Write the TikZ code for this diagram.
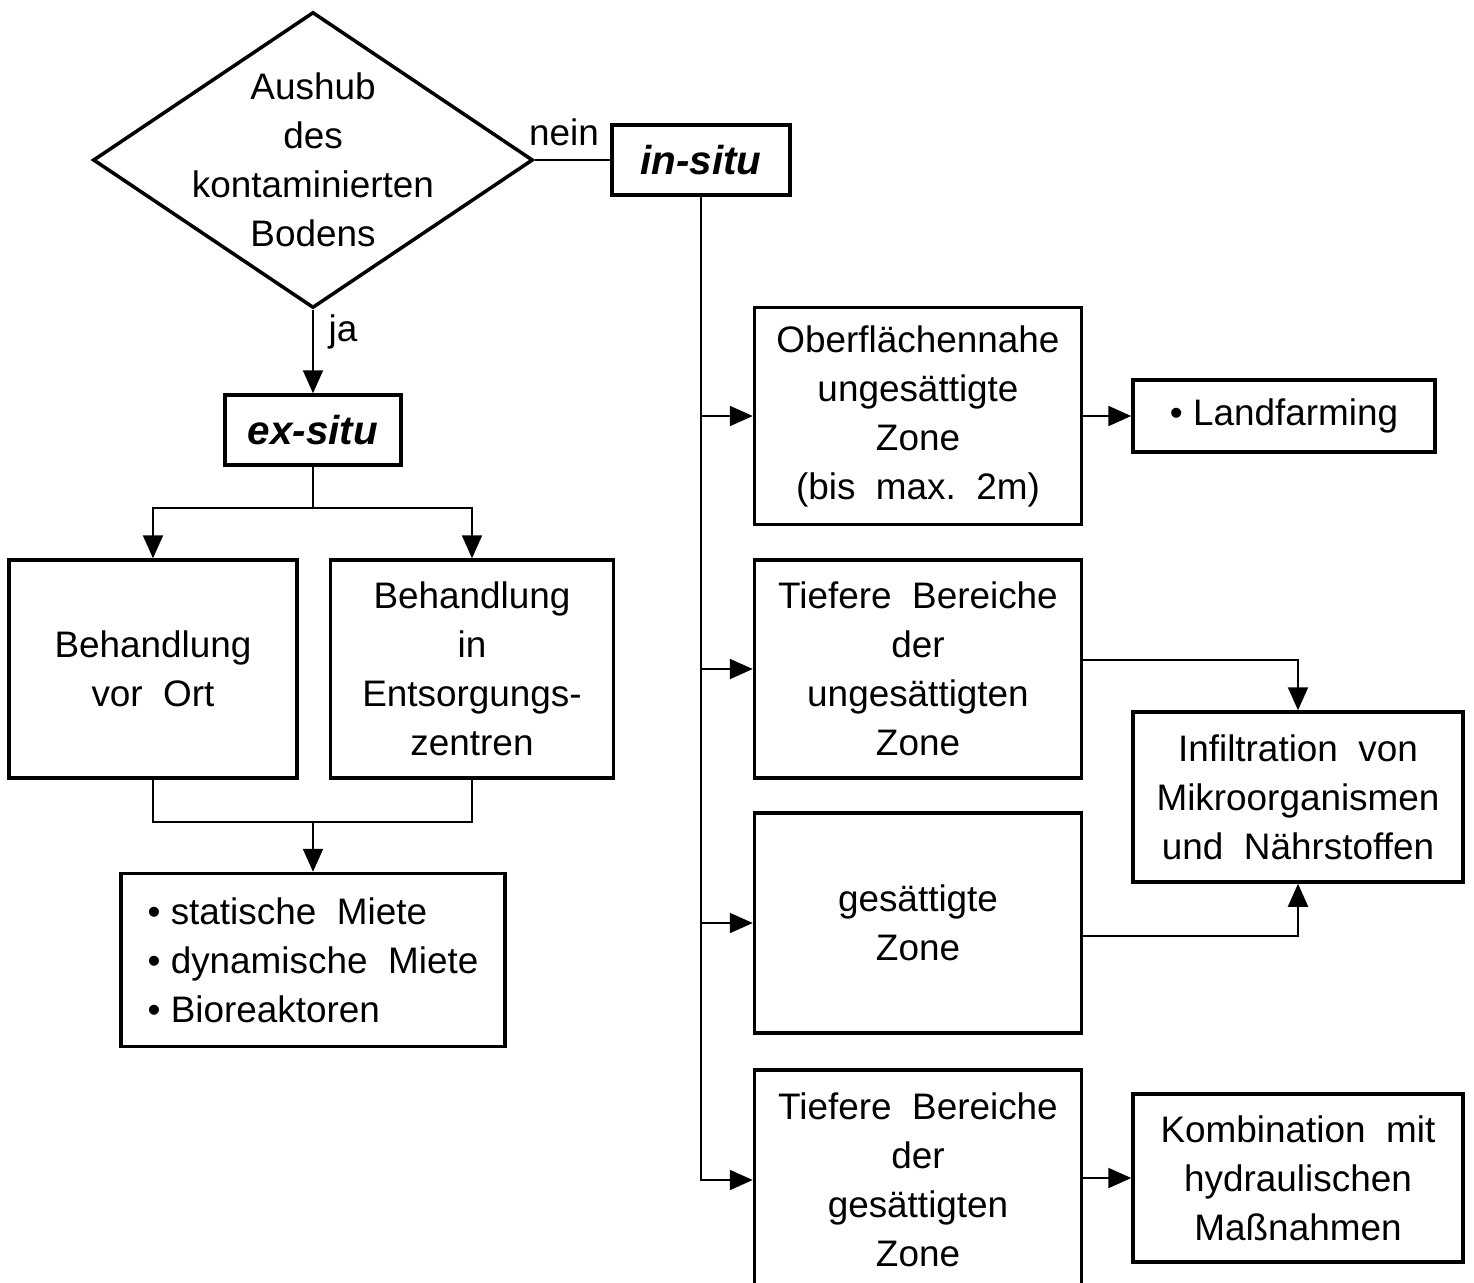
\documentclass[tikz,border=0pt]{standalone}
\usepackage{fontspec}
\setmainfont{Liberation Sans}
\usetikzlibrary{shapes.geometric,arrows.meta}

\newcommand\chartfont{\fontsize{21}{27.9}\selectfont}
\newcommand\tagfont{\fontsize{23}{27.9}\selectfont\bfseries\itshape}

\begin{document}
\begin{tikzpicture}[x=0.02cm, y=-0.02cm, line width=1.2pt,
    >={Triangle[length=0.46cm, width=0.4cm]},
    every node/.style={font=\chartfont},
    box/.style={draw, line width=2pt, align=center, inner sep=0pt},
    decision/.style={draw, diamond, line width=2pt, inner sep=0pt,
        minimum width=8.8cm, minimum height=5.92cm}]
    \useasboundingbox (0,0) rectangle (1474,1282);

    % Entscheidung
    \node[decision] (ask) at (313,160) {};
    \node[align=center] (asktext) at (ask.center) {Aushub\\des\\kontaminierten\\Bodens};
    \node[box, minimum width=3.56cm, minimum height=1.4cm, font=\tagfont] (insitu) at (701,160) {in-situ};
    \node[box, minimum width=3.52cm, minimum height=1.4cm, font=\tagfont] (exsitu) at (313,430) {ex-situ};
    \node (nein) at (564,132) {nein};
    \node (ja) at (343,332) {ja};

    % ex-situ
    \node[box, minimum width=5.76cm, minimum height=4.36cm] (vorort) at (153,669) {Behandlung\\vor\ \ Ort};
    \node[box, minimum width=5.66cm, minimum height=4.36cm] (zentren) at (472,669) {Behandlung\\in\\Entsorgungs-\\zentren};
    \node[box, align=left, minimum width=7.68cm, minimum height=3.46cm] (miete) at (313,960)
        {\textbullet\ statische\ \ Miete\\\textbullet\ dynamische\ \ Miete\\\textbullet\ Bioreaktoren};
    \coordinate (split) at (313,508);
    \coordinate (merge) at (313,822);

    % in-situ
    \node[box, minimum width=6.54cm, minimum height=4.34cm] (oberfl) at (918,416)
        {Oberflächennahe\\ungesättigte\\Zone\\(bis\ \ max.\ \ 2m)};
    \node[box, minimum width=6.54cm, minimum height=4.36cm] (tiefungs) at (918,669)
        {Tiefere\ \ Bereiche\\der\\ungesättigten\\Zone};
    \node[box, minimum width=6.54cm, minimum height=4.4cm] (gesaett) at (918,923)
        {gesättigte\\Zone};
    \node[box, minimum width=6.54cm, minimum height=4.4cm] (tiefges) at (918,1180)
        {Tiefere\ \ Bereiche\\der\\gesättigten\\Zone};
    \node[box, minimum width=6.04cm, minimum height=1.44cm] (landf) at (1284,416)
        {\textbullet\ Landfarming};
    \node[box, minimum width=6.6cm, minimum height=3.4cm] (infilt) at (1298,797)
        {Infiltration\ \ von\\Mikroorganismen\\und\ \ Nährstoffen};
    \node[box, minimum width=6.6cm, minimum height=3.36cm] (kombi) at (1298,1178)
        {Kombination\ \ mit\\hydraulischen\\Maßnahmen};

    \draw (ask.east) -- (insitu.west);
    \draw[->] (ask.south) -- (exsitu.north);

    \draw (exsitu.south) -- (split);
    \draw[->] (split) -| (vorort.north);
    \draw[->] (split) -| (zentren.north);
    \draw (vorort.south) |- (merge);
    \draw (zentren.south) |- (merge);
    \draw[->] (merge) -- (miete.north);

    \draw[->] (insitu.south) |- (tiefges.west);
    \draw[->] (insitu.south |- oberfl.west) -- (oberfl.west);
    \draw[->] (insitu.south |- tiefungs.west) -- (tiefungs.west);
    \draw[->] (insitu.south |- gesaett.west) -- (gesaett.west);

    \draw[->] (oberfl.east) -- (landf.west);
    \draw[->] ([yshift=0.18cm]tiefungs.east) -| (infilt.north);
    \draw[->] ([yshift=-0.26cm]gesaett.east) -| (infilt.south);
    \draw[->] (tiefges.east |- kombi.west) -- (kombi.west);
\end{tikzpicture}
\end{document}
